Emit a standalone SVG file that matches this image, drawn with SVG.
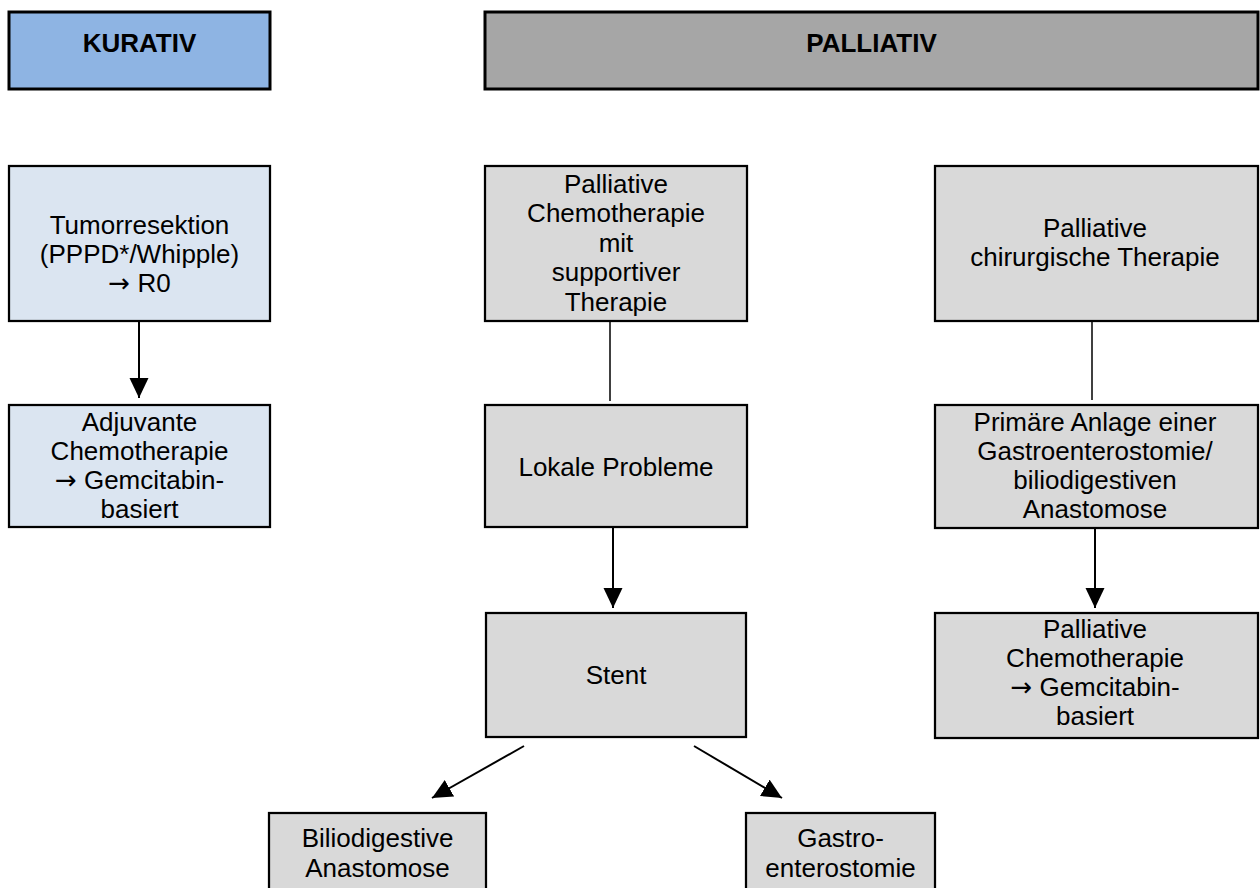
<svg xmlns="http://www.w3.org/2000/svg" width="1260" height="888" viewBox="0 0 1260 888">
<style>
  .hdr { stroke:#000; stroke-width:3; }
  .box { stroke:#000; stroke-width:2.25; }
  .blue { fill:#8eb4e3; }
  .lblue { fill:#dbe5f1; }
  .gray { fill:#d9d9d9; }
  .dgray { fill:#a6a6a6; }
  text { font-family:"Liberation Sans", Arial, sans-serif; font-size:26px; fill:#000; text-anchor:middle; }
  .bold { font-weight:bold; }
  .arr { font-family:"DejaVu Sans", sans-serif; font-size:26px; }
  .line { stroke:#000; stroke-width:1.5; fill:none; }
  .arrow { stroke:#000; stroke-width:2; fill:none; marker-end:url(#ah); }
</style>
<defs>
  <marker id="ah" markerUnits="userSpaceOnUse" markerWidth="22" markerHeight="20" refX="20" refY="9.5" orient="auto" viewBox="0 0 22 20">
    <path d="M0,0 L20,9.5 L0,19 Z" fill="#000"/>
  </marker>
</defs>
<rect width="1260" height="888" fill="#fff"/>

<g id="connectors">
  <line class="arrow" x1="139" y1="321" x2="139" y2="398"/>
  <line class="line" x1="610" y1="322" x2="610" y2="401"/>
  <line class="arrow" x1="613" y1="528" x2="613" y2="608"/>
  <line class="line" x1="1092" y1="322" x2="1092" y2="400"/>
  <line class="arrow" x1="1095" y1="528" x2="1095" y2="608"/>
  <line class="arrow" x1="524" y1="746" x2="432" y2="798"/>
  <line class="arrow" x1="694" y1="746" x2="782" y2="798"/>
</g>

<g id="kurativ">
  <rect class="hdr blue" x="9" y="12" width="261" height="77"/>
  <text class="bold" x="139.5" y="52">KURATIV</text>
</g>
<g id="palliativ">
  <rect class="hdr dgray" x="485" y="12" width="773" height="77"/>
  <text class="bold" x="871.5" y="52">PALLIATIV</text>
</g>

<g id="tumorresektion">
  <rect class="box lblue" x="9" y="166" width="261" height="155"/>
  <text x="139.5" y="234">Tumorresektion</text>
  <text x="139.5" y="263">(PPPD*/Whipple)</text>
  <text x="139.5" y="292"><tspan class="arr">→</tspan> R0</text>
</g>
<g id="adjuvante">
  <rect class="box lblue" x="9" y="405" width="261" height="122"/>
  <text x="139.5" y="431">Adjuvante</text>
  <text x="139.5" y="460">Chemotherapie</text>
  <text x="139.5" y="489"><tspan class="arr">→</tspan> Gemcitabin-</text>
  <text x="139.5" y="518">basiert</text>
</g>

<g id="palliative-chemo">
  <rect class="box gray" x="485" y="166" width="262" height="155"/>
  <text x="616" y="193">Palliative</text>
  <text x="616" y="222">Chemotherapie</text>
  <text x="616" y="252">mit</text>
  <text x="616" y="281">supportiver</text>
  <text x="616" y="311">Therapie</text>
</g>
<g id="lokale">
  <rect class="box gray" x="485" y="405" width="262" height="122"/>
  <text x="616" y="476">Lokale Probleme</text>
</g>
<g id="stent">
  <rect class="box gray" x="486" y="613" width="260" height="124"/>
  <text x="616" y="684">Stent</text>
</g>
<g id="biliodigestive">
  <rect class="box gray" x="269" y="813" width="217" height="90"/>
  <text x="377.5" y="847">Biliodigestive</text>
  <text x="377.5" y="877">Anastomose</text>
</g>
<g id="gastro">
  <rect class="box gray" x="746" y="813" width="189" height="90"/>
  <text x="840.5" y="847">Gastro-</text>
  <text x="840.5" y="877">enterostomie</text>
</g>

<g id="palliative-chirurgie">
  <rect class="box gray" x="935" y="166" width="323" height="155"/>
  <text x="1095" y="237">Palliative</text>
  <text x="1095" y="266">chirurgische Therapie</text>
</g>
<g id="primaere-anlage">
  <rect class="box gray" x="935" y="405" width="323" height="123"/>
  <text x="1095" y="431">Primäre Anlage einer</text>
  <text x="1095" y="460">Gastroenterostomie/</text>
  <text x="1095" y="489">biliodigestiven</text>
  <text x="1095" y="518">Anastomose</text>
</g>
<g id="palliative-chemo-2">
  <rect class="box gray" x="935" y="613" width="323" height="125"/>
  <text x="1095" y="638">Palliative</text>
  <text x="1095" y="667">Chemotherapie</text>
  <text x="1095" y="696"><tspan class="arr">→</tspan> Gemcitabin-</text>
  <text x="1095" y="725">basiert</text>
</g>
</svg>
